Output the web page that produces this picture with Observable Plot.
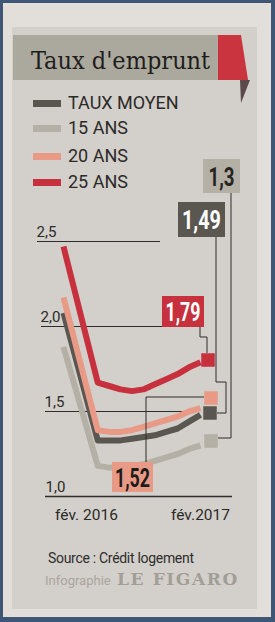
<!DOCTYPE html>
<html><head><meta charset="utf-8">
<script src="https://cdn.jsdelivr.net/npm/d3@7"></script>
<script src="https://cdn.jsdelivr.net/npm/@observablehq/plot@0.6"></script>
<style>
html,body{margin:0;padding:0;}
body{width:275px;height:622px;overflow:hidden;position:relative;background:#3f5674;font-family:Roboto,sans-serif;color:#2b2a28;}
#paper{position:absolute;left:3px;top:3px;width:268px;height:614px;background:#e2ded9;}
#panel{position:absolute;left:12px;top:27px;width:245px;height:582px;background:#d3cfca;}
#deco{position:absolute;left:0;top:0;}
#title{position:absolute;left:31px;top:48px;line-height:1;font-family:"DejaVu Serif Condensed","DejaVu Serif",serif;font-stretch:condensed;font-size:25px;color:#1f1e1c;white-space:nowrap;}
.leg{position:absolute;left:68px;font-size:18px;white-space:nowrap;line-height:18px;}
.sw{position:absolute;left:33px;width:28px;height:7px;}
#source{position:absolute;left:48px;top:551px;font-size:14px;line-height:14px;white-space:nowrap;color:#2e2d2b;letter-spacing:-0.3px;}
#info{position:absolute;left:45px;top:574px;font-size:13px;line-height:13px;color:#aaa69f;white-space:nowrap;}
#figaro{position:absolute;left:117px;top:571px;line-height:17px;font-family:"DejaVu Serif",serif;font-weight:bold;font-size:17px;color:#a29e97;letter-spacing:1.6px;white-space:nowrap;}
#chart{position:absolute;left:0;top:0;}
</style>
</head><body>
<div id="paper"></div>
<div id="panel"></div>
<svg id="deco" width="275" height="622">
  <rect x="13" y="35" width="205" height="45" fill="#aba89d"/>
  <polygon points="218,35 241,35 248,80 218,80" fill="#c9343f"/>
  <polygon points="240,80 250,80 241,103" fill="#5b4a4c"/>
</svg>
<div id="title">Taux d'emprunt</div>
<div id="legend"></div>
<div id="chart"></div>
<div id="source">Source : Crédit logement</div>
<div id="info">Infographie</div>
<div id="figaro">LE FIGARO</div>
<script>
// ---- data ----
const months = [0, 3, 4, 5, 6, 7, 8, 9, 10, 11, 12];
const tauxMoyen = [2.08, 1.33, 1.33, 1.33, 1.34, 1.35, 1.36, 1.38, 1.40, 1.44, 1.48];
const ans15     = [1.88, 1.18, 1.17, 1.17, 1.18, 1.19, 1.21, 1.23, 1.25, 1.28, 1.30];
const ans20     = [2.17, 1.39, 1.38, 1.38, 1.39, 1.41, 1.43, 1.45, 1.47, 1.50, 1.52];
const ans25     = [2.47, 1.67, 1.65, 1.63, 1.62, 1.63, 1.66, 1.69, 1.72, 1.76, 1.79];
const seriesNames = ["TAUX MOYEN", "15 ANS", "20 ANS", "25 ANS"];
const seriesValues = [tauxMoyen, ans15, ans20, ans25];
const endLabels = ["1,49", "1,3", "1,52", "1,79"];
const yTicks = [1.0, 1.5, 2.0, 2.5];
const yTickLabels = ["1,0", "1,5", "2,0", "2,5"];
const xTicks = [0, 12];
const xTickLabels = ["fév. 2016", "fév.2017"];

// ---- styles ----
const colors = ["#5a5650", "#b4b0a6", "#e99a87", "#c7303d"];
const drawOrder = ["15 ANS", "TAUX MOYEN", "20 ANS", "25 ANS"];
const legendTops = [96, 121, 149, 175];
const tickDx = [-18, -19, -23, -27];
const gridInsets = [[-18, -32], [-18, 13], [-22, 38], [-26, 40]];
const xTickDx = [23, 0];
// annotation layout, pixel offsets from each line's last point
const annot = {
  "TAUX MOYEN": {sq: [10, -1.4], box: [1.5, -194.9, 47, 35], text: "#fff", tw: 39,
    leader: [[16, -177.4], [16, -32.4], [26, -32.4], [26, -1.4], [17, -1.4]]},
  "15 ANS": {sq: [11, -4], box: [21.5, -269, 37, 34], text: "#262523", tw: 26,
    leader: [[31, -252], [31, -7], [18, -7]]},
  "20 ANS": {sq: [11, -9.6], box: [-67.5, 69.4, 41, 30], text: "#1d1c1a", tw: 35,
    leader: [[-54, 54.4], [-54, -10.6], [4, -10.6]]},
  "25 ANS": {sq: [8, -1.7], box: [-17, -50.2, 42, 31], text: "#fff", tw: 35,
    leader: [[0, -34.7], [0, -24.7], [7, -24.7], [7, -8.7]]}
};

// legend (HTML)
const legend = document.getElementById("legend");
seriesNames.forEach((name, i) => {
  const sw = document.createElement("div");
  sw.className = "sw"; sw.style.top = (legendTops[i] + 4) + "px"; sw.style.background = colors[i];
  legend.appendChild(sw);
  const t = document.createElement("div");
  t.className = "leg"; t.style.top = (legendTops[i] - 2) + "px"; t.textContent = name;
  legend.appendChild(t);
});

const rows = seriesNames.flatMap((s, i) => months.map((m, j) => ({series: s, m, v: seriesValues[i][j]})));
const ends = seriesNames.map((s, i) => ({series: s, m: months[months.length - 1], v: seriesValues[i][months.length - 1], label: endLabels[i], color: colors[i]}));
const endsOrdered = drawOrder.map(s => ends.find(e => e.series === s));

function annotations(index, scales) {
  const g = d3.create("svg:g");
  for (const e of endsOrdered) {
    const a = annot[e.series];
    const X = scales.x(e.m), Y = scales.y(e.v);
    g.append("path")
      .attr("d", d3.line()(a.leader.map(([dx, dy]) => [X + dx, Y + dy])))
      .attr("fill", "none").attr("stroke", "#2e2d2b").attr("stroke-width", 1);
  }
  for (const e of endsOrdered) {
    const a = annot[e.series];
    const X = scales.x(e.m), Y = scales.y(e.v);
    const s = 13.5;
    g.append("rect").attr("x", X + a.sq[0] - s / 2).attr("y", Y + a.sq[1] - s / 2)
      .attr("width", s).attr("height", s).attr("fill", e.color);
    const [bx, by, bw, bh] = a.box;
    g.append("rect").attr("x", X + bx - bw / 2).attr("y", Y + by - bh / 2)
      .attr("width", bw).attr("height", bh).attr("fill", e.color);
    g.append("text").attr("x", X + bx).attr("y", Y + by + 9.5)
      .attr("text-anchor", "middle").attr("fill", a.text)
      .attr("font-family", "Roboto, sans-serif")
      .attr("font-size", 26).attr("font-weight", "bold")
      .attr("textLength", a.tw).attr("lengthAdjust", "spacingAndGlyphs")
      .text(e.label);
  }
  return g.node();
}

const plot = Plot.plot({
  width: 275, height: 622,
  marginLeft: 63, marginRight: 75, marginTop: 241, marginBottom: 126,
  x: {domain: [0, 12], axis: null},
  y: {domain: [1, 2.5], axis: null},
  color: {domain: seriesNames, range: colors},
  style: {background: "transparent", overflow: "visible"},
  marks: [
    ...yTicks.map((t, i) => Plot.ruleY([t], {stroke: "#2e2d2b", strokeWidth: i === 0 ? 1.5 : 1, insetLeft: gridInsets[i][0], insetRight: gridInsets[i][1]})),
    ...yTicks.map((t, i) => Plot.text([t], {x: () => 0, y: d => d, text: () => yTickLabels[i], textAnchor: "start", dx: tickDx[i], dy: -9, fontSize: 15, fill: "#2b2a28", fontFamily: "Roboto, sans-serif"})),
    ...xTicks.map((t, i) => Plot.text([t], {x: d => d, y: () => 1, text: () => xTickLabels[i], textAnchor: "middle", dx: xTickDx[i], dy: 19, fontSize: 15.5, fill: "#2b2a28", fontFamily: "Roboto, sans-serif"})),
    ...drawOrder.map(s => Plot.line(rows.filter(r => r.series === s), {x: "m", y: "v", stroke: "series", strokeWidth: 6, strokeLinejoin: "round", strokeLinecap: "butt"})),
    annotations
  ]
});
document.getElementById("chart").appendChild(plot);
</script>
</body></html>
